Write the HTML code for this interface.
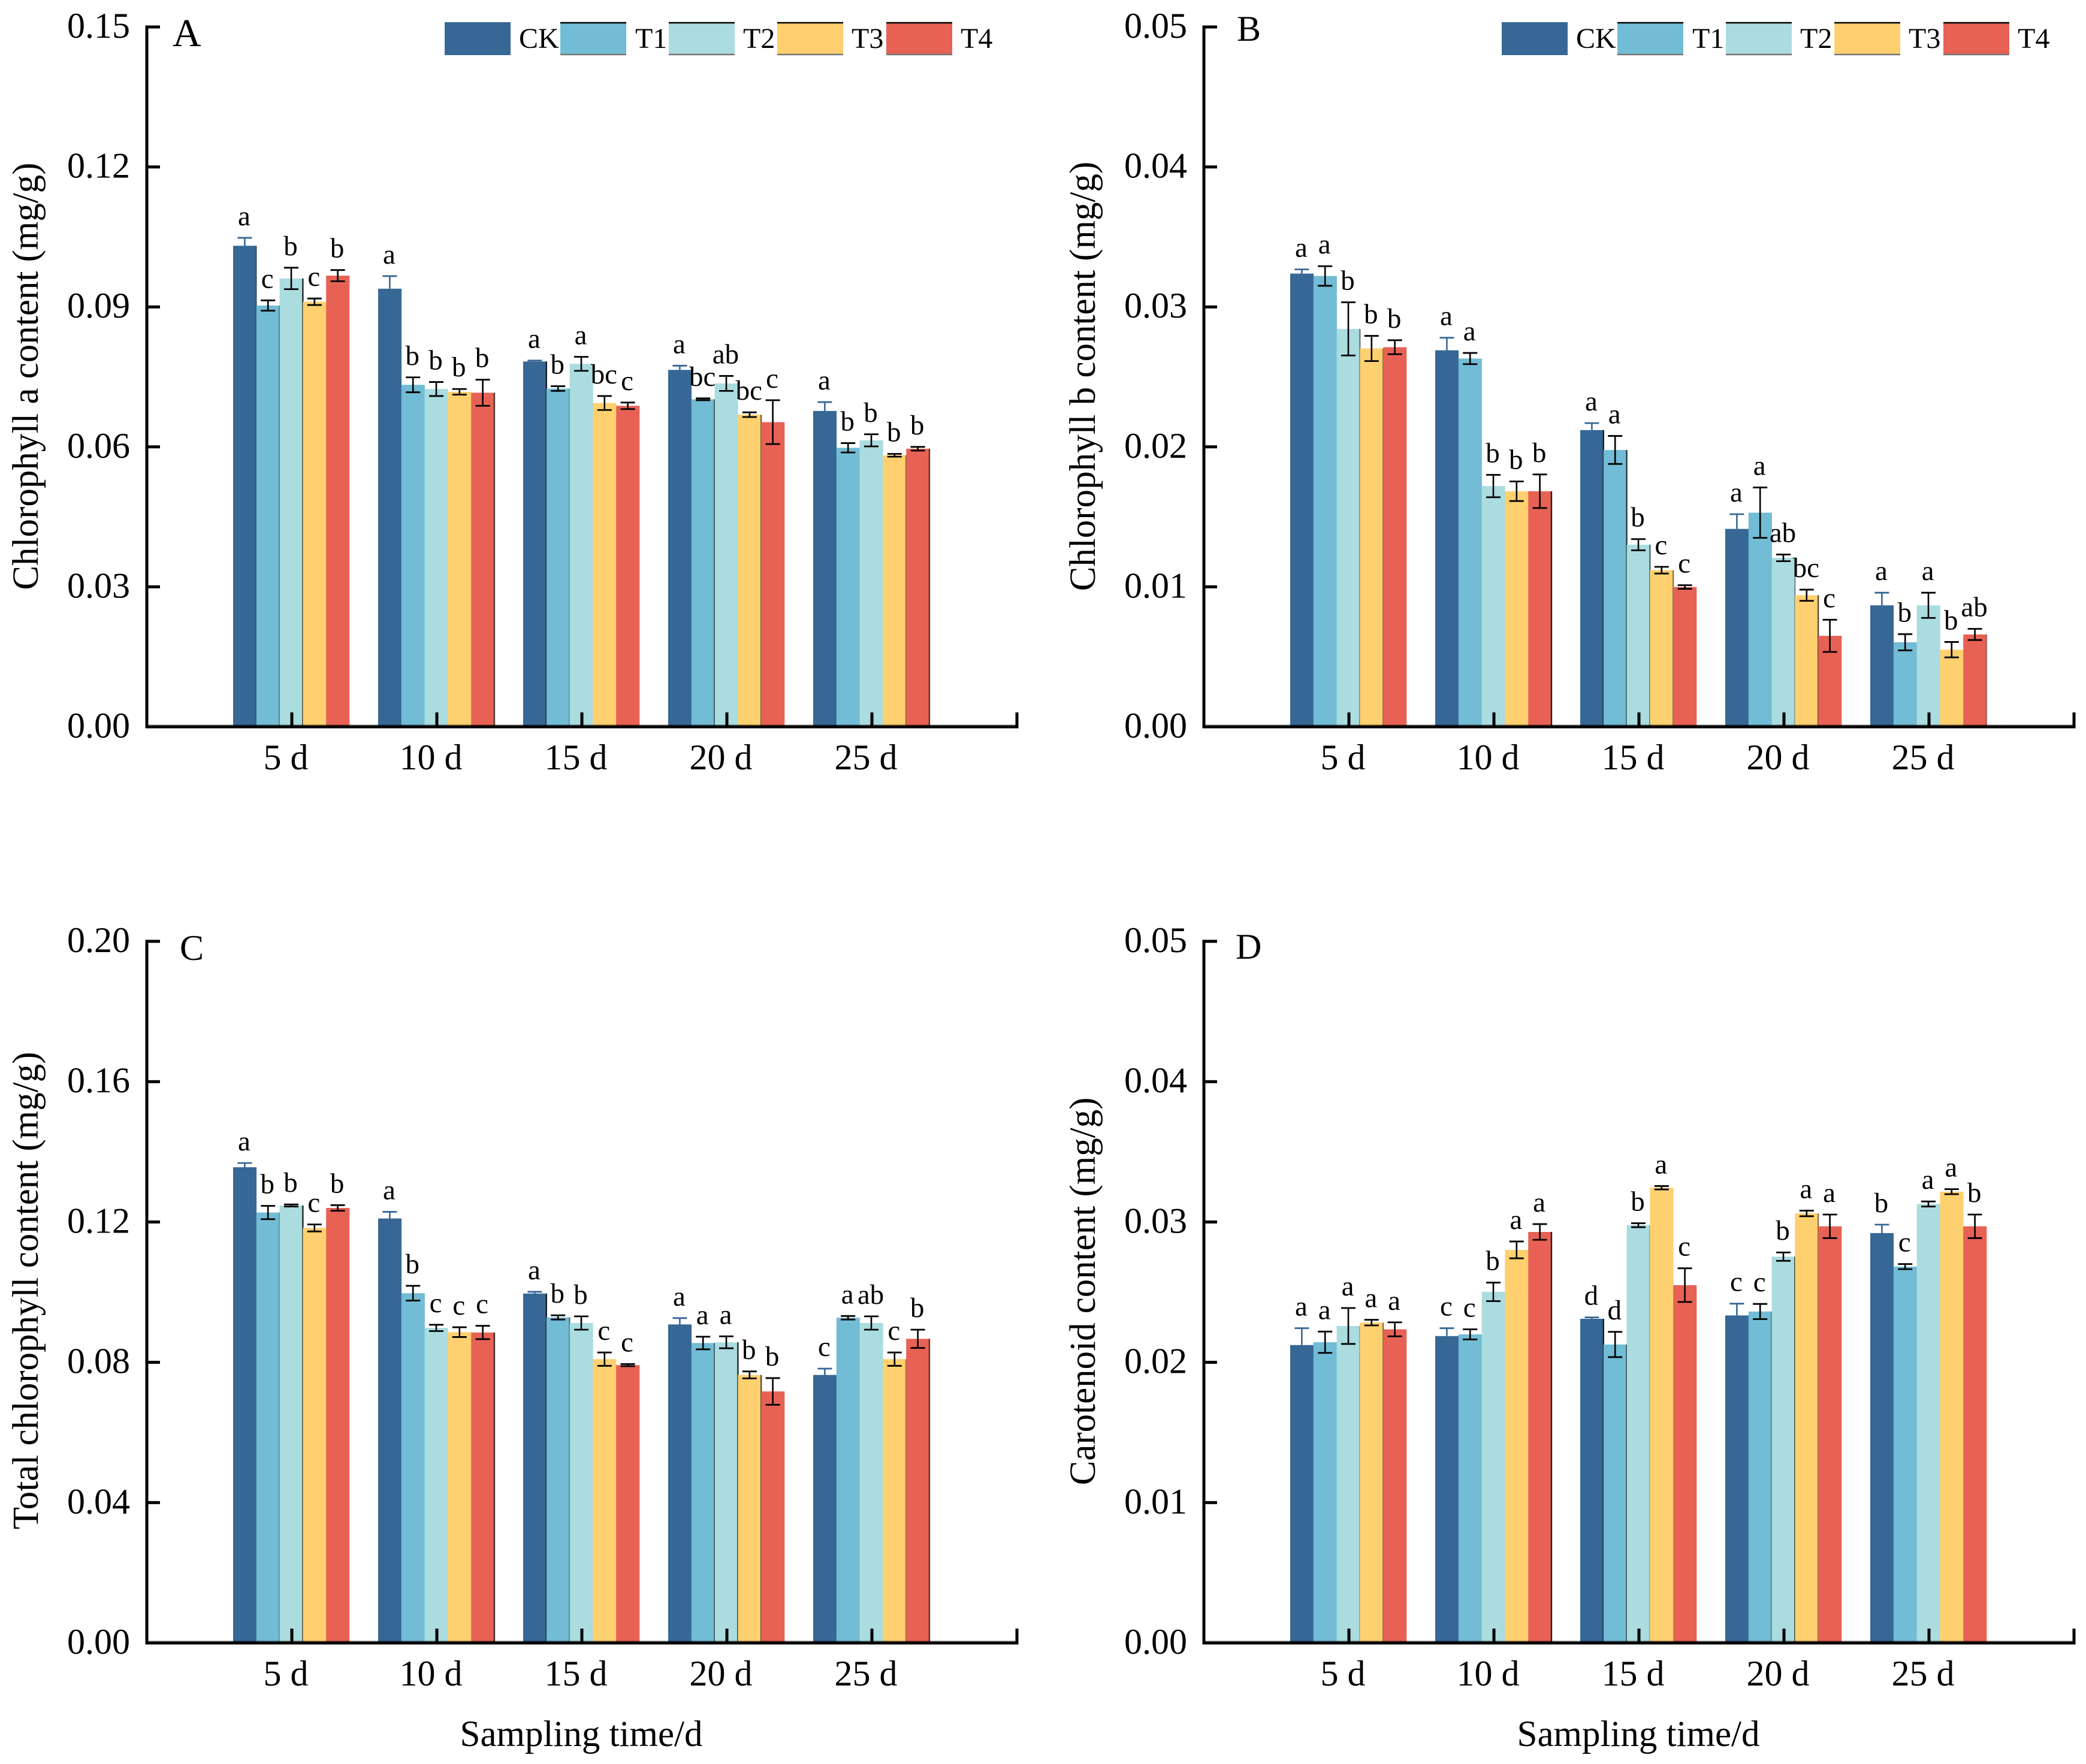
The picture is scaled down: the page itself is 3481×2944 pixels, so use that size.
<!DOCTYPE html>
<html lang="en">
<head>
<meta charset="utf-8">
<title>Chlorophyll and carotenoid content over sampling time</title>
<style>
html,body{margin:0;padding:0;background:#fff;}
svg{display:block;}
text{font-family:"Liberation Serif","Times New Roman",serif;fill:#000;}
</style>
</head>
<body>
<svg id="figure" xmlns="http://www.w3.org/2000/svg" width="3481" height="2944" viewBox="0 0 3481 2944"></svg>
<script>
const categories = ['5 d', '10 d', '15 d', '20 d', '25 d'];
const series = ['CK', 'T1', 'T2', 'T3', 'T4'];

const ticksA = ['0.00', '0.03', '0.06', '0.09', '0.12', '0.15'];
const ticksB = ['0.00', '0.01', '0.02', '0.03', '0.04', '0.05'];
const ticksC = ['0.00', '0.04', '0.08', '0.12', '0.16', '0.20'];
const ticksD = ['0.00', '0.01', '0.02', '0.03', '0.04', '0.05'];

const valuesA = [
  [0.1031, 0.0903, 0.0961, 0.0911, 0.0967],
  [0.0939, 0.0733, 0.0724, 0.0718, 0.0716],
  [0.0783, 0.0725, 0.0778, 0.0694, 0.0688],
  [0.0765, 0.0702, 0.0736, 0.0669, 0.0653],
  [0.0677, 0.0598, 0.0614, 0.0582, 0.0596]
];
const errorsA = [
  [0.0017, 0.0011, 0.0023, 0.0007, 0.0012],
  [0.0027, 0.0016, 0.0015, 0.0006, 0.0028],
  [0.0002, 0.0005, 0.0015, 0.0015, 0.0007],
  [0.0009, 0.0002, 0.0016, 0.0005, 0.0047],
  [0.0019, 0.0010, 0.0013, 0.0003, 0.0004]
];
const lettersA = [
  ['a', 'c', 'b', 'c', 'b'],
  ['a', 'b', 'b', 'b', 'b'],
  ['a', 'b', 'a', 'bc', 'c'],
  ['a', 'bc', 'ab', 'bc', 'c'],
  ['a', 'b', 'b', 'b', 'b']
];
const edgesA = [
  [0.3, 0.6, 0.9, 0, 0],
  [0, 0, 0, 0, 0.7],
  [0.9, 0.4, 0, 0, 0],
  [0, 0.95, 0, 0.6, 0],
  [0, 0, 0, 0.6, 0.7]
];

const valuesB = [
  [0.03238, 0.03221, 0.02843, 0.02703, 0.02712],
  [0.02690, 0.02631, 0.01720, 0.01683, 0.01683],
  [0.02120, 0.01978, 0.01301, 0.01119, 0.00999],
  [0.01414, 0.01530, 0.01207, 0.00940, 0.00650],
  [0.00868, 0.00604, 0.00868, 0.00551, 0.00660]
];
const errorsB = [
  [0.00030, 0.00070, 0.00190, 0.00090, 0.00050],
  [0.00090, 0.00040, 0.00080, 0.00070, 0.00120],
  [0.00050, 0.00100, 0.00040, 0.00024, 0.00013],
  [0.00105, 0.00180, 0.00024, 0.00040, 0.00115],
  [0.00090, 0.00058, 0.00090, 0.00055, 0.00040]
];
const lettersB = [
  ['a', 'a', 'b', 'b', 'b'],
  ['a', 'a', 'b', 'b', 'b'],
  ['a', 'a', 'b', 'c', 'c'],
  ['a', 'a', 'ab', 'bc', 'c'],
  ['a', 'b', 'a', 'b', 'ab']
];
const edgesB = [
  [0, 0, 0.5, 0.5, 0],
  [0, 0, 0, 0, 0.9],
  [0.9, 0.8, 0.6, 0.5, 0],
  [0, 0, 0.4, 0.7, 0],
  [0, 0, 0, 0, 0.3]
];

const valuesC = [
  [0.1356, 0.1227, 0.1247, 0.1183, 0.1240],
  [0.1210, 0.0997, 0.0898, 0.0886, 0.0885],
  [0.0996, 0.0928, 0.0912, 0.0809, 0.0792],
  [0.0908, 0.0855, 0.0857, 0.0764, 0.0717],
  [0.0764, 0.0927, 0.0912, 0.0809, 0.0867]
];
const errorsC = [
  [0.0012, 0.0019, 0.0003, 0.0010, 0.0008],
  [0.0019, 0.0021, 0.0009, 0.0014, 0.0019],
  [0.0005, 0.0006, 0.0019, 0.0019, 0.0003],
  [0.0018, 0.0018, 0.0017, 0.0010, 0.0038],
  [0.0018, 0.0005, 0.0019, 0.0019, 0.0026]
];
const lettersC = [
  ['a', 'b', 'b', 'c', 'b'],
  ['a', 'b', 'c', 'c', 'c'],
  ['a', 'b', 'b', 'c', 'c'],
  ['a', 'a', 'a', 'b', 'b'],
  ['c', 'a', 'ab', 'c', 'b']
];
const edgesC = [
  [0, 0.4, 0.9, 0, 0],
  [0, 0, 0, 0, 0.8],
  [0.9, 0.5, 0, 0, 0],
  [0, 0.9, 0.9, 0.7, 0],
  [0, 0, 0, 0.5, 0.7]
];

const valuesD = [
  [0.02123, 0.02143, 0.02259, 0.02283, 0.02235],
  [0.02187, 0.02199, 0.02502, 0.02801, 0.02929],
  [0.02310, 0.02127, 0.02977, 0.03244, 0.02550],
  [0.02334, 0.02362, 0.02753, 0.03061, 0.02969],
  [0.02921, 0.02682, 0.03128, 0.03216, 0.02969]
];
const errorsD = [
  [0.00120, 0.00076, 0.00128, 0.00020, 0.00050],
  [0.00056, 0.00036, 0.00066, 0.00060, 0.00056],
  [0.00010, 0.00090, 0.00014, 0.00012, 0.00120],
  [0.00084, 0.00054, 0.00030, 0.00020, 0.00084],
  [0.00060, 0.00018, 0.00018, 0.00018, 0.00084]
];
const lettersD = [
  ['a', 'a', 'a', 'a', 'a'],
  ['c', 'c', 'b', 'a', 'a'],
  ['d', 'd', 'b', 'a', 'c'],
  ['c', 'c', 'b', 'a', 'a'],
  ['b', 'c', 'a', 'a', 'b']
];
const edgesD = [
  [0, 0, 0.3, 0.5, 0],
  [0, 0, 0, 0, 0.9],
  [0.9, 0.9, 0.3, 0, 0],
  [0, 0.5, 0.9, 0.5, 0],
  [0, 0, 0, 0, 0]
];

const SVGNS = 'http://www.w3.org/2000/svg';
const figure = document.getElementById('figure');
const seriesColors = ['#376795', '#72BCD5', '#AADCE0', '#FFD06F', '#E76254'];

function mk(parent, tag, attrs, content) {
  const node = document.createElementNS(SVGNS, tag);
  Object.keys(attrs).forEach(function (k) { node.setAttribute(k, attrs[k]); });
  if (content !== undefined) node.textContent = content;
  parent.appendChild(node);
  return node;
}

function drawLegend(panel, dx) {
  const swatchX = [742, 935, 1116, 1297, 1479];
  const labelX = [866, 1060, 1240, 1421, 1603];
  series.forEach(function (name, s) {
    const swatch = mk(panel, 'rect', {x: swatchX[s] + dx, y: 37, width: 110, height: 55, fill: seriesColors[s]});
    
    
    if (s > 0) {
      const topEdge = mk(panel, 'line', {x1: swatchX[s] + dx, x2: swatchX[s] + dx + 110, y1: 38, y2: 38, stroke: '#000', 'stroke-width': 2.5});
      
      
      const bottomEdge = mk(panel, 'line', {x1: swatchX[s] + dx, x2: swatchX[s] + dx + 110, y1: 91, y2: 91, stroke: '#777', 'stroke-width': 2.5});
      
      
    }
    const label = mk(panel, 'text', {x: labelX[s] + dx, y: 80, 'font-size': 48}, name);
    
    
  });
}

function drawPanel(cfg) {
  const panel = mk(figure, 'g', {});
  
  

  const axisX = cfg.axisX;
  const yTop = cfg.yTop;
  const yZero = cfg.yZero;
  const tickNums = cfg.ticks.map(Number);
  const yMax = tickNums[tickNums.length - 1];
  const yScale = function (v) { return yZero - (v / yMax) * (yZero - yTop); };
  const step = 242;
  const xCenter = function (g) { return axisX + step * (g + 1); };
  const barW = 38.8;
  const barX = function (g, s) { return xCenter(g) - 2.5 * barW + s * barW - 1; };

  categories.forEach(function (cat, g) {
    series.forEach(function (name, s) {
      const v = cfg.values[g][s];
      const bar = mk(panel, 'rect', {x: barX(g, s), y: yScale(v), width: barW + 0.3, height: yZero - yScale(v), fill: seriesColors[s]});
      
      
      const edgeOpacity = cfg.edges[g][s];
      if (edgeOpacity > 0) {
        const edge = mk(panel, 'line', {x1: barX(g, s) + barW, x2: barX(g, s) + barW, y1: yScale(v), y2: yZero, stroke: '#111', 'stroke-width': 2.4, 'stroke-opacity': edgeOpacity});
        
        
      }
    });
  });

  categories.forEach(function (cat, g) {
    series.forEach(function (name, s) {
      const v = cfg.values[g][s];
      const e = cfg.errors[g][s];
      const cx = barX(g, s) + barW / 2;
      const color = s === 0 ? '#376795' : '#000';
      const hi = yScale(v + e);
      const lo = yScale(s === 0 ? v : v - e);
      const stem = mk(panel, 'line', {x1: cx, x2: cx, y1: hi, y2: lo, stroke: color, 'stroke-width': 2.6});
      
      
      const capTop = mk(panel, 'line', {x1: cx - 12, x2: cx + 12, y1: hi, y2: hi, stroke: color, 'stroke-width': 2.8});
      
      
      if (s > 0) {
        const capBottom = mk(panel, 'line', {x1: cx - 12, x2: cx + 12, y1: lo, y2: lo, stroke: color, 'stroke-width': 2.8});
        
        
      }
      const letter = mk(panel, 'text', {x: cx - 1, y: hi - 21, 'font-size': 47, 'text-anchor': 'middle'}, cfg.letters[g][s]);
      
      
    });
  });

  const yAxis = mk(panel, 'line', {x1: axisX, x2: axisX, y1: yTop - 2.5, y2: yZero + 2.5, stroke: '#000', 'stroke-width': 5});
  
  
  const xAxis = mk(panel, 'line', {x1: axisX - 2.5, x2: axisX + step * 6 + 2.5, y1: yZero, y2: yZero, stroke: '#000', 'stroke-width': 5});
  
  
  const axisShade = mk(panel, 'line', {x1: axisX, x2: axisX + step * 6, y1: yZero - 3.2, y2: yZero - 3.2, stroke: '#000', 'stroke-width': 1.6, 'stroke-opacity': 0.3});
  
  

  cfg.ticks.forEach(function (t, i) {
    const y = yScale(tickNums[i]);
    const tick = mk(panel, 'line', {x1: axisX, x2: axisX + 22, y1: y, y2: y, stroke: '#000', 'stroke-width': 5});
    
    
    const label = mk(panel, 'text', {x: axisX - 28, y: y + 18, 'font-size': 60, 'text-anchor': 'end'}, t);
    
    
  });

  categories.forEach(function (cat, g) {
    const x = xCenter(g);
    const tick = mk(panel, 'line', {x1: x, x2: x, y1: yZero - 24, y2: yZero, stroke: '#000', 'stroke-width': 5});
    
    
    const label = mk(panel, 'text', {x: x - 10, y: yZero + 71, 'font-size': 60, 'text-anchor': 'middle'}, cat);
    
    
  });
  const endTick = mk(panel, 'line', {x1: axisX + step * 6, x2: axisX + step * 6, y1: yZero - 24, y2: yZero, stroke: '#000', 'stroke-width': 5});
  
  

  const yTitle = mk(panel, 'text', {x: axisX - 182, y: cfg.titleY, 'font-size': 61, 'text-anchor': 'middle', transform: 'rotate(-90 ' + (axisX - 182) + ' ' + cfg.titleY + ')'}, cfg.yLabel);
  
  

  const panelLetter = mk(panel, 'text', {x: cfg.letterX, y: cfg.letterY, 'font-size': cfg.letterSize}, cfg.id);
  
  

  if (cfg.legend) drawLegend(panel, axisX - 245);

  if (cfg.xLabel) {
    const xTitle = mk(panel, 'text', {x: axisX + 725, y: yZero + 172, 'font-size': 61, 'text-anchor': 'middle'}, 'Sampling time/d');
    
    
  }
}

drawPanel({id: 'A', axisX: 245, yTop: 45, yZero: 1213, ticks: ticksA, values: valuesA, errors: errorsA, letters: lettersA, edges: edgesA, yLabel: 'Chlorophyll a content (mg/g)', titleY: 628, letterX: 288, letterY: 77, letterSize: 66, legend: true, xLabel: false});
drawPanel({id: 'B', axisX: 2009, yTop: 45, yZero: 1213, ticks: ticksB, values: valuesB, errors: errorsB, letters: lettersB, edges: edgesB, yLabel: 'Chlorophyll b content (mg/g)', titleY: 628, letterX: 2064, letterY: 68, letterSize: 60, legend: true, xLabel: false});
drawPanel({id: 'C', axisX: 245, yTop: 1571, yZero: 2742, ticks: ticksC, values: valuesC, errors: errorsC, letters: lettersC, edges: edgesC, yLabel: 'Total chlorophyll content (mg/g)', titleY: 2154, letterX: 300, letterY: 1602, letterSize: 60, legend: false, xLabel: true});
drawPanel({id: 'D', axisX: 2009, yTop: 1571, yZero: 2742, ticks: ticksD, values: valuesD, errors: errorsD, letters: lettersD, edges: edgesD, yLabel: 'Carotenoid content (mg/g)', titleY: 2155, letterX: 2062, letterY: 1600, letterSize: 60, legend: false, xLabel: true});
</script>
</body>
</html>
